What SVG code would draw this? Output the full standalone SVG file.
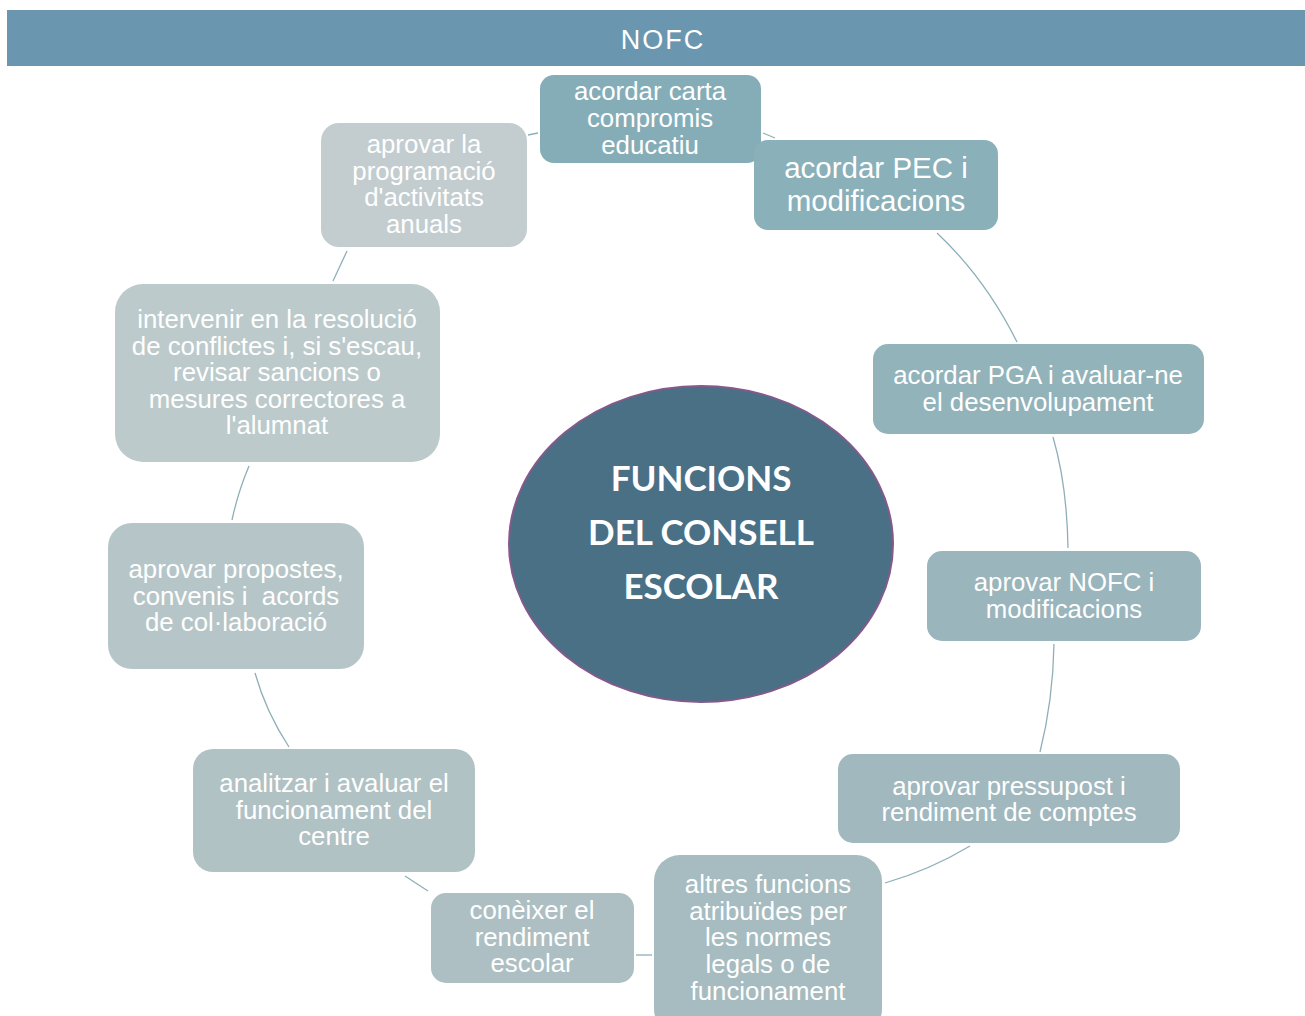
<svg xmlns="http://www.w3.org/2000/svg" width="1305" height="1016" viewBox="0 0 1305 1016">
  <style>
    .lbl { font-family: "Liberation Sans", Arial, sans-serif; font-size: 25.8px; fill: #ffffff; text-anchor: middle; }
    .big { font-size: 29.5px; }
    .pre { white-space: pre; }
    .title { font-family: Lato, "Open Sans", sans-serif; font-weight: bold; font-size: 35px; fill: #ffffff; text-anchor: middle; }
    .head { font-family: "Liberation Sans", Arial, sans-serif; font-size: 27px; fill: #ffffff; text-anchor: middle; letter-spacing: 2px; }
    .conn { fill: none; stroke: #8FAFB8; stroke-width: 1.3; }
  </style>
  <rect width="1305" height="1016" fill="#ffffff"/>

  <!-- header band -->
  <g id="header">
    <rect x="7" y="10" width="1298" height="56" fill="#6A97AF"/>
    <text class="head" x="663" y="49">NOFC</text>
  </g>

  <!-- connectors forming the ring -->
  <g id="connectors">
    <path class="conn" d="M763 133 L775 138"/>
    <path class="conn" d="M937 233 Q985 278 1017 342"/>
    <path class="conn" d="M1053 437 Q1067 485 1068 548"/>
    <path class="conn" d="M1054 644 Q1053 700 1040 752"/>
    <path class="conn" d="M970 846 Q930 870 885 883"/>
    <path class="conn" d="M652 955 L636 955"/>
    <path class="conn" d="M428 891 L405 876"/>
    <path class="conn" d="M289 747 Q266 712 255 673"/>
    <path class="conn" d="M232 520 Q238 492 249 466"/>
    <path class="conn" d="M333 281 L347 251"/>
    <path class="conn" d="M528 135 L538 133"/>
  </g>

  <!-- central ellipse -->
  <g id="center">
    <ellipse cx="701" cy="544" rx="192" ry="158" fill="#4A7086" stroke="#84598C" stroke-width="2"/>
    <text class="title" x="701" y="491">FUNCIONS</text>
    <text class="title" x="701" y="545">DEL CONSELL</text>
    <text class="title" x="701" y="599">ESCOLAR</text>
  </g>

  <g id="n-carta">
    <rect x="540" y="75" width="221" height="88" rx="14" fill="#85ADB8"/>
    <text class="lbl" x="650" y="100">acordar carta</text>
    <text class="lbl" x="650" y="127">compromis</text>
    <text class="lbl" x="650" y="154">educatiu</text>
  </g>

  <g id="n-pec">
    <rect x="754" y="140" width="244" height="90" rx="14" fill="#8AB0BA"/>
    <text class="lbl big" x="876" y="178">acordar PEC i</text>
    <text class="lbl big" x="876" y="211">modificacions</text>
  </g>

  <g id="n-pga">
    <rect x="873" y="344" width="331" height="90" rx="15" fill="#93B3BB"/>
    <text class="lbl" x="1038" y="384">acordar PGA i avaluar-ne</text>
    <text class="lbl" x="1038" y="411">el desenvolupament</text>
  </g>

  <g id="n-nofc">
    <rect x="927" y="551" width="274" height="90" rx="15" fill="#9AB5BC"/>
    <text class="lbl" x="1064" y="591">aprovar NOFC i</text>
    <text class="lbl" x="1064" y="618">modificacions</text>
  </g>

  <g id="n-pressupost">
    <rect x="838" y="754" width="342" height="89" rx="15" fill="#A1B8BE"/>
    <text class="lbl" x="1009" y="795">aprovar pressupost i</text>
    <text class="lbl" x="1009" y="821">rendiment de comptes</text>
  </g>

  <g id="n-altres">
    <rect x="654" y="855" width="228" height="180" rx="26" fill="#A6BCC0"/>
    <text class="lbl" x="768" y="893">altres funcions</text>
    <text class="lbl" x="768" y="920">atribuïdes per</text>
    <text class="lbl" x="768" y="946">les normes</text>
    <text class="lbl" x="768" y="973">legals o de</text>
    <text class="lbl" x="768" y="1000">funcionament</text>
  </g>

  <g id="n-coneixer">
    <rect x="431" y="893" width="203" height="90" rx="15" fill="#ADBFC3"/>
    <text class="lbl" x="532" y="919">conèixer el</text>
    <text class="lbl" x="532" y="946">rendiment</text>
    <text class="lbl" x="532" y="972">escolar</text>
  </g>

  <g id="n-analitzar">
    <rect x="193" y="749" width="282" height="123" rx="20" fill="#B1C2C5"/>
    <text class="lbl" x="334" y="792">analitzar i avaluar el</text>
    <text class="lbl" x="334" y="819">funcionament del</text>
    <text class="lbl" x="334" y="845">centre</text>
  </g>

  <g id="n-propostes">
    <rect x="108" y="523" width="256" height="146" rx="24" fill="#B6C6C8"/>
    <text class="lbl" x="236" y="578">aprovar propostes,</text>
    <text class="lbl pre" x="236" y="605">convenis i  acords</text>
    <text class="lbl" x="236" y="631">de col·laboració</text>
  </g>

  <g id="n-conflictes">
    <rect x="115" y="284" width="325" height="178" rx="28" fill="#BCCACB"/>
    <text class="lbl" x="277" y="328">intervenir en la resolució</text>
    <text class="lbl" x="277" y="355">de conflictes i, si s'escau,</text>
    <text class="lbl" x="277" y="381">revisar sancions o</text>
    <text class="lbl" x="277" y="408">mesures correctores a</text>
    <text class="lbl" x="277" y="434">l'alumnat</text>
  </g>

  <g id="n-programacio">
    <rect x="321" y="123" width="206" height="124" rx="18" fill="#C3CDCF"/>
    <text class="lbl" x="424" y="153">aprovar la</text>
    <text class="lbl" x="424" y="180">programació</text>
    <text class="lbl" x="424" y="206">d'activitats</text>
    <text class="lbl" x="424" y="233">anuals</text>
  </g>
</svg>
